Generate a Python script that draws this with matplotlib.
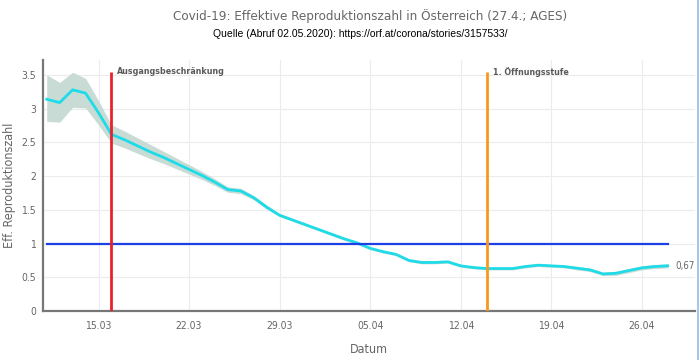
import numpy as np
import matplotlib
matplotlib.use('Agg')
import matplotlib.pyplot as plt
import matplotlib.dates as mdates
from matplotlib.ticker import FormatStrFormatter
from matplotlib.lines import Line2D

# --- data (daily from 11.03 to 28.04) ---
start_day = np.datetime64('2020-03-11')
r_eff = [3.14, 3.09, 3.28, 3.23, 2.94, 2.62, 2.54, 2.45, 2.36, 2.28,
         2.19, 2.10, 2.01, 1.91, 1.80, 1.78, 1.68, 1.54, 1.42, 1.35,
         1.28, 1.21, 1.14, 1.07, 1.01, 0.93, 0.88, 0.84, 0.75, 0.72,
         0.72, 0.73, 0.67, 0.645, 0.63, 0.63, 0.63, 0.66, 0.68, 0.67,
         0.66, 0.635, 0.61, 0.55, 0.56, 0.60, 0.64, 0.66, 0.67]
r_upper = [3.50, 3.39, 3.54, 3.45, 3.12, 2.76, 2.67, 2.57, 2.47, 2.37,
           2.27, 2.17, 2.07, 1.96, 1.84, 1.82, 1.71, 1.57, 1.44, 1.37,
           1.30, 1.23, 1.16, 1.09, 1.03, 0.95, 0.90, 0.86, 0.77, 0.74,
           0.74, 0.75, 0.69, 0.665, 0.65, 0.65, 0.65, 0.68, 0.70, 0.69,
           0.68, 0.66, 0.635, 0.575, 0.59, 0.63, 0.67, 0.69, 0.70]
r_lower = [2.81, 2.80, 3.02, 3.01, 2.76, 2.49, 2.42, 2.34, 2.26, 2.19,
           2.11, 2.03, 1.95, 1.86, 1.76, 1.74, 1.65, 1.51, 1.40, 1.33,
           1.26, 1.19, 1.12, 1.05, 0.99, 0.91, 0.86, 0.82, 0.73, 0.70,
           0.70, 0.71, 0.65, 0.625, 0.61, 0.61, 0.61, 0.64, 0.66, 0.65,
           0.64, 0.61, 0.585, 0.525, 0.53, 0.57, 0.61, 0.63, 0.64]
dates = start_day + np.arange(len(r_eff))

events = ['Ausgangsbeschränkung', '1. Öffnungsstufe']
event_dates = [np.datetime64('2020-03-16'), np.datetime64('2020-04-14')]
event_colors = ['#e8212b', '#f59a1b']
tick_dates = np.arange(np.datetime64('2020-03-15'), np.datetime64('2020-04-27'), 7)

GREY = '#666666'
plt.rcParams['font.family'] = 'DejaVu Sans'
plt.rcParams['font.stretch'] = 'condensed'

fig = plt.figure(figsize=(7, 3.6), dpi=100)
ax = fig.add_axes([0.0614, 0.136, 0.931, 0.697])

ax.fill_between(dates, r_lower, r_upper, color='#c9dbd5', lw=0, zorder=2)
ax.plot(dates, r_eff, color='#1fdbe8', lw=2, zorder=3)
ax.plot([dates[0], dates[-1]], [1, 1], color='#1d3fe6', lw=1.6, zorder=4)

for name, d, c in zip(events, event_dates, event_colors):
    ax.vlines(d, 0, 3.55, color=c, lw=2, zorder=5)
    ax.text(d + np.timedelta64(11, 'h'), 3.55, name, ha='left', va='center',
            fontsize=6.4, color='#5a5a5a', fontweight='bold', fontstretch='condensed')

ax.text(dates[-1] + np.timedelta64(14, 'h'), r_eff[-1], f"{r_eff[-1]:.2f}".replace('.', ','),
        ha='left', va='center', fontsize=7, color=GREY, fontstretch='condensed')

ax.set_xlim(dates[0] - np.timedelta64(7, 'h'), dates[-1] + np.timedelta64(50, 'h'))
ax.set_ylim(0, 3.72)
ax.set_xticks(tick_dates)
ax.xaxis.set_major_formatter(mdates.DateFormatter('%d.%m'))
ax.set_yticks(np.arange(0, 3.51, 0.5))
ax.yaxis.set_major_formatter(FormatStrFormatter('%g'))
ax.tick_params(length=0, labelsize=7.5, labelcolor=GREY)
ax.tick_params(axis='x', pad=7)
ax.tick_params(axis='y', pad=5)
ax.grid(True, color='#ececec', lw=0.8, zorder=0)
ax.set_axisbelow(True)

for s in ['top', 'right']:
    ax.spines[s].set_visible(False)
for s in ['left', 'bottom']:
    ax.spines[s].set_color('#777777')
    ax.spines[s].set_linewidth(1.6)

ax.set_xlabel('Datum', fontsize=9, color=GREY, labelpad=9)
ax.set_ylabel('Eff. Reproduktionszahl', fontsize=9, color=GREY, labelpad=4)

fig.text(0.529, 0.955, 'Covid-19: Effektive Reproduktionszahl in Österreich (27.4.; AGES)',
         ha='center', va='center', fontsize=9.6, color=GREY)
fig.text(0.514, 0.905, 'Quelle (Abruf 02.05.2020): https://orf.at/corona/stories/3157533/',
         ha='center', va='center', fontsize=7.5, color='black', family='Liberation Sans')

fig.add_artist(Line2D([0.997, 0.997], [0, 1], transform=fig.transFigure, color='#a9c6e8', lw=1.5))

fig.savefig('out.png', dpi=100)
